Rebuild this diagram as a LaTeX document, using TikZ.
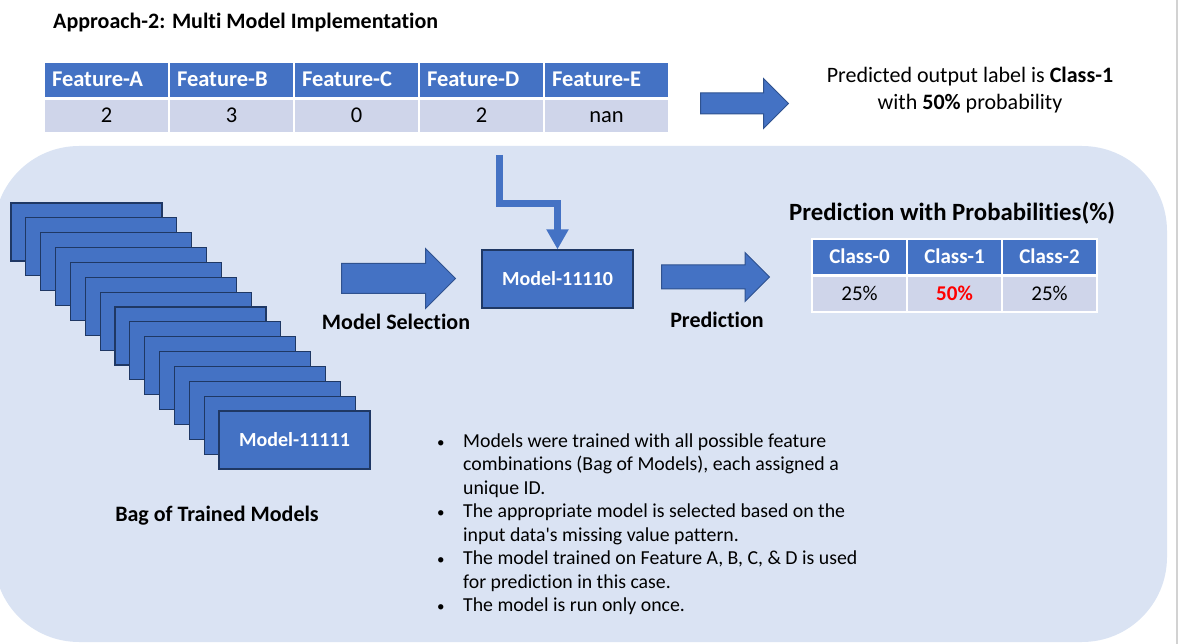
\documentclass[tikz,border=0pt]{standalone}
\usepackage{fontspec}
\setmainfont{Carlito}[Ligatures={NoCommon}]
\usetikzlibrary{positioning}
\usetikzlibrary{shapes.arrows}
\usetikzlibrary{arrows.meta}
\definecolor{hblue}{HTML}{4472C4}
\definecolor{rowblue}{HTML}{CFD5EA}
\definecolor{panel}{HTML}{DAE3F3}
\definecolor{navy}{HTML}{1F3864}
\definecolor{arrowedge}{HTML}{2F528F}
\tikzset{every node/.style={inner sep=0pt},
hdr/.style={ % Header cells of both tables
draw=white, line width=2pt, fill=hblue, text=white,
text height=14pt, text depth=0pt,
font=\bfseries\fontsize{21}{25}\selectfont},
fhdr/.style={hdr, % Feature headers sit to the left
text width=109pt, inner xsep=8pt, align=left,
font=\bfseries\fontsize{22.5}{26}\selectfont},
cell/.style={ % Value cells
draw=white, line width=2pt, fill=rowblue,
text height=14pt, text depth=0pt,
font=\fontsize{21}{25}\selectfont},
model/.style={ % One trained model
draw=navy, line width=1.2pt, fill=hblue, text=white,
minimum width=151pt, minimum height=58pt,
font=\bfseries\fontsize{20}{24}\selectfont},
blockarrow/.style={ % Fat arrows between the steps
single arrow, draw=arrowedge, line width=1pt, fill=hblue,
inner xsep=0pt, anchor=tail},
lbl/.style={font=\bfseries\fontsize{22}{26}\selectfont},
elbow/.style={ % Feeds the row into the chosen model
draw=hblue, line width=7pt, line join=miter,
-{Triangle[width=21pt,length=20pt]}}}
\newcommand{\dotmark}{{\fontsize{15}{15}\selectfont\textbullet}}

\begin{document}
\begin{tikzpicture}[x=1pt, y=-1pt]
	\useasboundingbox (0,0) rectangle (1181,644);
	\fill[panel, rounded corners=85pt] (-6,146) rectangle (1167,642);
	\draw[gray!35, line width=2pt] (1177,0) -- (1177,644);

	\node[anchor=base west, font=\bfseries\fontsize{22}{26}\selectfont] (title) at (53,29) {Approach-2: Multi Model Implementation};

	% input row
	\foreach \ft/\val [count=\i from 0] in {A/2,B/3,C/0,D/2,E/nan} {
		\node[fhdr, minimum height=36pt] (f\ft) at ({106.5+125*\i},80) {Feature-\ft};
		\node[cell, minimum width=125pt, minimum height=34pt, font=\fontsize{22.5}{26}\selectfont] (v\ft) at ({106.5+125*\i},116) {\val};
	}
	\node[blockarrow, minimum height=88pt, inner ysep=10pt, single arrow head extend=14.5pt] (outarrow) at (700,103.5) {};
	\node[align=center, font=\fontsize{22}{27}\selectfont] (verdict) at (970,90) {Predicted output label is \textbf{Class-1}\\with \textbf{50\%} probability};

	% bag of models
	\foreach \k in {0,...,13}
		\node[model] (bag\k) at ({86.5+14.857*\k},{232+14.857*\k}) {};
	\node[model] (m11111) at (294.5,440) {Model-11111};
	\node[lbl, anchor=base] (baglbl) at (217,521) {Bag of Trained Models};

	\node[blockarrow, minimum height=114pt, inner ysep=14.5pt, single arrow head extend=15pt] (selarrow) at (341,278.5) {};
	\node[lbl, anchor=base] (sellbl) at (396,330) {Model Selection};
	\node[model] (m11110) at (557.5,279) {Model-11110};
	\coordinate (tap) at (499.5,155);
	\draw[elbow] (tap) -- ++(0,48.5) -| (m11110.north);

	\node[blockarrow, minimum height=108pt, inner ysep=11.5pt, single arrow head extend=12.5pt] (predarrow) at (661,277) {};
	\node[lbl, anchor=base] (predlbl) at (717,328) {Prediction};

	% output probabilities
	\node[anchor=base west, font=\bfseries\fontsize{24.8}{28}\selectfont] (probtitle) at (789,221) {Prediction with Probabilities(\%)};
	\foreach \cls/\pct [count=\i from 0] in {0/25\%,1/{\textcolor{red}{\textbf{50\%}}},2/25\%} {
		\node[hdr, minimum width=95pt, minimum height=36pt] (c\cls) at ({859.5+95*\i},257) {Class-\cls};
		\node[cell, minimum width=95pt, minimum height=36pt] (p\cls) at ({859.5+95*\i},294) {\pct};
	}

	\node[anchor=base west, font=\fontsize{19.8}{23.5}\selectfont] (notes) at (437,447) {%
		\begin{tabular}[t]{@{}p{26pt}@{}l@{}}
		\dotmark & Models were trained with all possible feature\\
		& combinations (Bag of Models), each assigned a\\
		& unique ID.\\
		\dotmark & The appropriate model is selected based on the\\
		& input data\textquotesingle s missing value pattern.\\
		\dotmark & The model trained on Feature A, B, C, \& D is used\\
		& for prediction in this case.\\
		\dotmark & The model is run only once.
		\end{tabular}};
\end{tikzpicture}
\end{document}
